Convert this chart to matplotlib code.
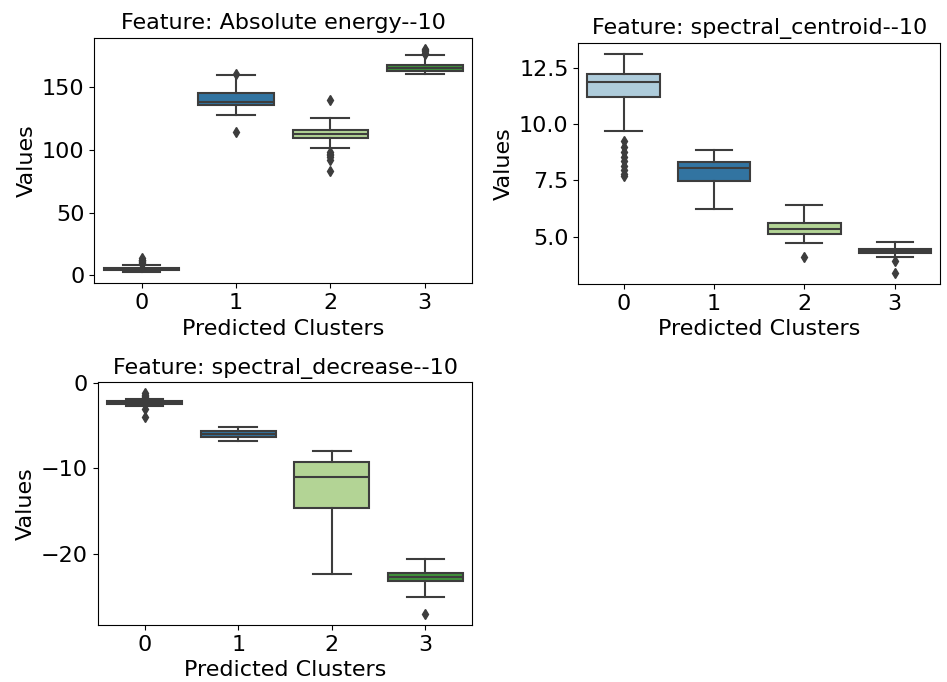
import colorsys
import matplotlib
matplotlib.use("Agg")
import matplotlib.pyplot as plt
import matplotlib.colors as mcolors

clusters = [0, 1, 2, 3]
palette = ["#a6cee3", "#1f78b4", "#b2df8a", "#33a02c"]

# Five-number summaries per cluster, plus outliers
energy_med = [5.0, 138.3, 112.6, 165.4]
energy_q1 = [4.0, 135.6, 109.6, 162.8]
energy_q3 = [6.0, 145.0, 115.9, 167.7]
energy_lo = [2.5, 127.9, 101.1, 160.6]
energy_hi = [8.0, 159.4, 125.2, 175.4]
energy_fliers = [[8.8, 9.5, 10.2, 11.0, 11.8, 12.5, 13.4],
                 [160.6, 113.9],
                 [140.0, 98.5, 97.0, 95.5, 94.0, 92.0, 83.5],
                 [176.5, 177.5, 178.5, 179.5, 180.5]]

centroid_med = [11.87, 8.07, 5.35, 4.37]
centroid_q1 = [11.22, 7.48, 5.14, 4.29]
centroid_q3 = [12.23, 8.33, 5.61, 4.46]
centroid_lo = [9.68, 6.25, 4.73, 4.10]
centroid_hi = [13.12, 8.85, 6.41, 4.77]
centroid_fliers = [[9.25, 9.0, 8.75, 8.55, 8.35, 8.15, 7.95, 7.8, 7.7],
                   [],
                   [4.12],
                   [3.93, 3.39]]

decrease_med = [-2.25, -5.99, -11.05, -22.78]
decrease_q1 = [-2.45, -6.30, -14.60, -23.25]
decrease_q3 = [-2.05, -5.65, -9.30, -22.22]
decrease_lo = [-2.71, -6.81, -22.36, -25.09]
decrease_hi = [-1.85, -5.12, -7.98, -20.64]
decrease_fliers = [[-1.2, -1.35, -1.5, -1.65, -3.05, -3.95],
                   [],
                   [],
                   [-27.08]]

features = [
    ("Feature: Absolute energy--10", energy_med, energy_q1, energy_q3,
     energy_lo, energy_hi, energy_fliers),
    ("Feature: spectral_centroid--10", centroid_med, centroid_q1, centroid_q3,
     centroid_lo, centroid_hi, centroid_fliers),
    ("Feature: spectral_decrease--10", decrease_med, decrease_q1, decrease_q3,
     decrease_lo, decrease_hi, decrease_fliers),
]


def desaturate(color, prop=0.75):
    h, l, s = colorsys.rgb_to_hls(*mcolors.to_rgb(color))
    return colorsys.hls_to_rgb(h, l, s * prop)


fills = [desaturate(c) for c in palette]
lum = min(colorsys.rgb_to_hls(*c)[1] for c in fills) * 0.6
gray = (lum, lum, lum)

W, H = 947, 682
fig = plt.figure(figsize=(W / 100, H / 100), dpi=100)

# axes boxes in pixels: left, top, right, bottom
boxes_px = [
    (94.3, 37.7, 472.0, 283.3),
    (578.3, 42.7, 940.0, 284.0),
    (97.7, 382.3, 472.3, 625.0),
]

fs = 16
for (title, med, q1, q3, lo, hi, fl), (l, t, r, b) in zip(features, boxes_px):
    ax = fig.add_axes([l / W, 1 - b / H, (r - l) / W, (b - t) / H])
    stats = [dict(med=med[i], q1=q1[i], q3=q3[i], whislo=lo[i],
                  whishi=hi[i], fliers=fl[i]) for i in range(len(clusters))]
    art = ax.bxp(stats, positions=clusters, widths=0.8, patch_artist=True,
                 boxprops=dict(edgecolor=gray, linewidth=1.5),
                 medianprops=dict(color=gray, linewidth=1.5),
                 whiskerprops=dict(color=gray, linewidth=1.5),
                 capprops=dict(color=gray, linewidth=1.5),
                 flierprops=dict(marker="d", markerfacecolor=gray,
                                 markeredgecolor=gray, markersize=5,
                                 linestyle="none"))
    for patch, c in zip(art["boxes"], fills):
        patch.set_facecolor(c)
    ax.set_xlim(-0.5, 3.5)
    ax.set_xticks(clusters)
    ax.set_xticklabels([str(c) for c in clusters])
    ax.tick_params(labelsize=fs)
    ax.set_title(title, fontsize=fs)
    ax.set_xlabel("Predicted Clusters", fontsize=fs)
    ax.set_ylabel("Values", fontsize=fs)

fig.savefig("out.png", dpi=100)
